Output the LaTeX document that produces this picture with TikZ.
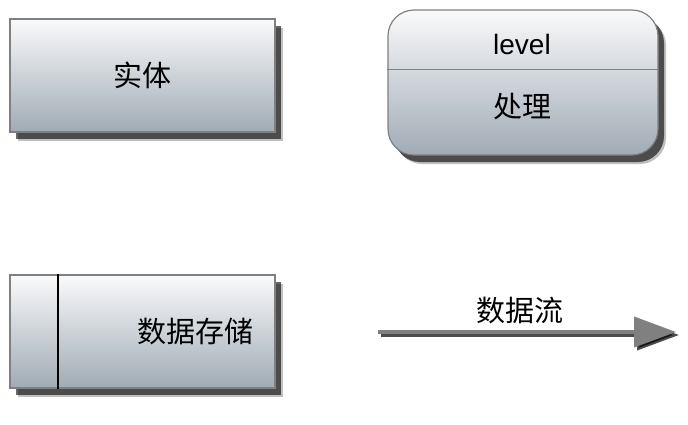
\documentclass[tikz,border=0pt]{standalone}
\usepackage{fontspec}
\setmainfont{Noto Sans CJK SC}
\newfontfamily\latinfont{Liberation Sans}
\usepackage{xcolor}
\usepackage{tikz}
\usetikzlibrary{arrows.meta,positioning,calc,shadows}

\definecolor{boxtop}{RGB}{250,250,251}
\definecolor{boxbot}{RGB}{160,171,181}
\definecolor{boxedge}{RGB}{128,128,128}

\tikzset{
  dfdshape/.style={draw=boxedge, line width=1.2pt,
    top color=boxtop, bottom color=boxbot,
    general shadow={shadow xshift=8pt, shadow yshift=-9pt, fill=black, opacity=0.25},
    drop shadow={shadow xshift=6pt, shadow yshift=-7pt, fill=black, opacity=0.6}},
  entitybox/.style={dfdshape, rectangle, minimum width=265pt, minimum height=113pt},
  processbox/.style={dfdshape, rectangle, rounded corners=26pt, minimum width=270pt, minimum height=145pt},
  storebox/.style={dfdshape, rectangle, minimum width=265pt, minimum height=113pt},
  label/.style={font=\fontsize{29}{34}\selectfont, text=black}
}

\begin{document}
\begin{tikzpicture}[x=1pt,y=-1pt]
\useasboundingbox (0,0) rectangle (688,424);

% external entity
\node[entitybox] (entity) at (142.5,75.5) {};
\node[label] (entitytext) at (entity.center) {实体};

% process
\node[processbox] (process) at (523,82.5) {};
\draw[boxedge, line width=1.5pt] ($(process.north west)+(0,60)$) -- ($(process.north east)+(0,60)$);
\node[label, font=\latinfont\fontsize{28}{32}\selectfont] (level) at (522,44) {level};
\node[label] (processtext) at (522,107) {处理};

% data store
\node[storebox] (store) at (142.5,331.5) {};
\draw[black, line width=2pt] ($(store.north west)+(49,0)$) -- ($(store.south west)+(49,0)$);
\node[label, anchor=east] (storetext) at (257,331) {数据存储};

% data flow
\coordinate (flowstart) at (378,332);
\coordinate (flowend) at (676,332);
\draw[black, opacity=0.7, line width=4pt, -{Triangle[length=42pt,width=30pt]}]
  ($(flowstart)+(3,3)$) -- ($(flowend)+(3,3)$);
\draw[boxedge, line width=4pt, -{Triangle[length=42pt,width=30pt]}] (flowstart) -- (flowend);
\node[label] (flowtext) at (520,311) {数据流};
\end{tikzpicture}
\end{document}
